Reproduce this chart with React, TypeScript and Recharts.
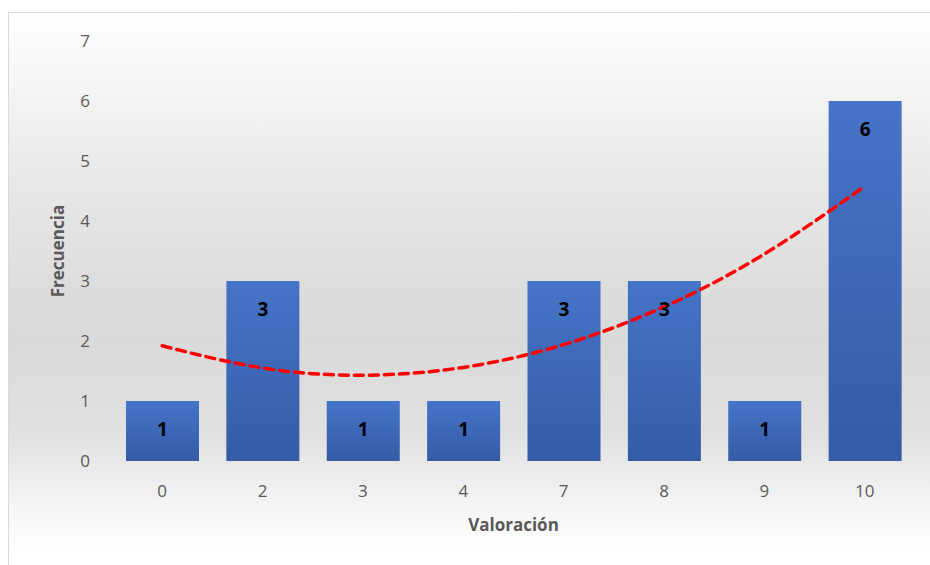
import React from 'react';
import {
  ComposedChart, Bar, Line, XAxis, YAxis, LabelList, Label,
} from 'recharts';

// valoraciones en el eje x
const categories = ['0', '2', '3', '4', '7', '8', '9', '10'];
// frecuencia de cada valoración
const frequencies = [1, 3, 1, 1, 3, 3, 1, 6];
// línea de tendencia polinómica (orden 2)
const trendValues = [1.92, 1.55, 1.43, 1.56, 1.94, 2.57, 3.45, 4.58];
const yTicks = [0, 1, 2, 3, 4, 5, 6, 7];

const data = categories.map((cat, i) => ({
  cat,
  freq: frequencies[i],
  trend: trendValues[i],
}));

const FONT = '"Open Sans", "Noto Sans", sans-serif';
const GRAY = '#595959';

export default function App() {
  return (
    <div
      style={{
        position: 'fixed',
        left: 8,
        top: 12,
        right: 0,
        bottom: 0,
        overflow: 'hidden',
        boxSizing: 'border-box',
        borderLeft: '1px solid #d9d9d9',
        borderTop: '1px solid #d9d9d9',
        background:
          'linear-gradient(to bottom, #ffffff 0px, #fbfbfb 30px, #eaeaea 150px, #dcdcdc 280px, #dadada 330px, #e0e0e0 420px, #ebebeb 460px, #f7f7f7 500px, #ffffff 540px)',
      }}
    >
      <ComposedChart
        width={929}
        height={559}
        data={data}
        margin={{ top: 28, right: 23, bottom: 41, left: 0 }}
        style={{ fontFamily: FONT }}
      >
        <defs>
          <linearGradient id="barFill" x1="0" y1="0" x2="0" y2="1">
            <stop offset="0%" stopColor="#4574c8" />
            <stop offset="100%" stopColor="#345ca6" />
          </linearGradient>
        </defs>
        <XAxis
          dataKey="cat"
          axisLine={false}
          tickLine={false}
          height={70}
          tickMargin={18}
          tick={{ fill: GRAY, fontSize: 17, fontFamily: FONT }}
        >
          <Label
            value="Valoración"
            position="insideBottom"
            offset={0}
            style={{ fill: GRAY, fontSize: 17, fontWeight: 700, fontFamily: FONT }}
          />
        </XAxis>
        <YAxis
          domain={[0, 7]}
          ticks={yTicks}
          axisLine={false}
          tickLine={false}
          width={103}
          tickMargin={16}
          tick={{ fill: GRAY, fontSize: 17, fontFamily: FONT }}
        >
          <Label
            value="Frecuencia"
            position="center"
            angle={-90}
            dx={-3}
            style={{ fill: GRAY, fontSize: 17, fontWeight: 700, fontFamily: FONT, textAnchor: 'middle' }}
          />
        </YAxis>
        <Bar dataKey="freq" barSize={73} fill="url(#barFill)" isAnimationActive={false}>
          <LabelList
            dataKey="freq"
            position="insideTop"
            offset={22}
            style={{ fill: '#000', fontSize: 19, fontWeight: 700, fontFamily: FONT }}
          />
        </Bar>
        <Line
          type="natural"
          dataKey="trend"
          stroke="#ff0000"
          strokeWidth={3.5}
          strokeDasharray="9 6"
          strokeLinecap="round"
          dot={false}
          activeDot={false}
          isAnimationActive={false}
        />
      </ComposedChart>
    </div>
  );
}
